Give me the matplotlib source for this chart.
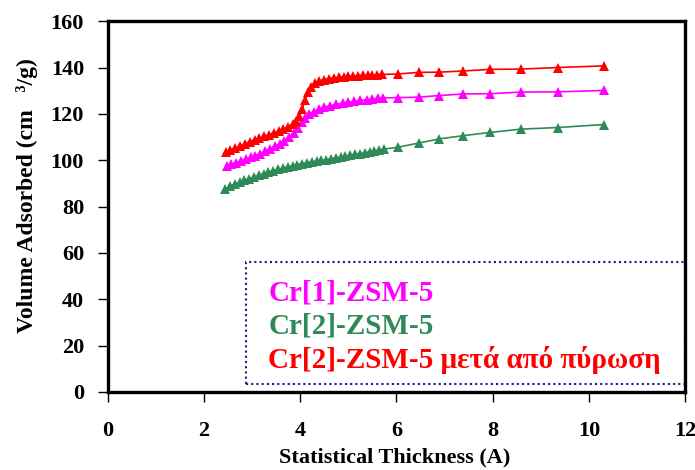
import matplotlib
matplotlib.use("Agg")
import matplotlib.pyplot as plt
from matplotlib.patches import Rectangle

# ---- data ----
cr1_x = [2.47, 2.57, 2.67, 2.77, 2.87, 2.97, 3.07, 3.17, 3.27, 3.37, 3.47, 3.57,
         3.67, 3.77, 3.87, 3.95, 4.03, 4.10, 4.18, 4.28, 4.38, 4.50, 4.62, 4.75,
         4.88, 5.00, 5.12, 5.25, 5.38, 5.50, 5.62, 5.72,
         6.03, 6.46, 6.89, 7.39, 7.95, 8.58, 9.35, 10.31]
cr1_y = [97.4, 98.2, 99.0, 99.8, 100.5, 101.2, 102.0, 102.8, 103.8, 104.8, 106.0, 107.2,
         108.5, 110.0, 111.8, 114.0, 116.5, 118.3, 119.8, 121.0, 122.0, 122.9, 123.5, 124.1,
         124.6, 125.0, 125.4, 125.8, 126.1, 126.4, 126.7, 126.9,
         127.0, 127.2, 127.9, 128.6, 128.7, 129.4, 129.5, 130.1]

cr2_x = [2.44, 2.54, 2.64, 2.74, 2.84, 2.94, 3.04, 3.14, 3.24, 3.34, 3.44, 3.54,
         3.64, 3.74, 3.84, 3.94, 4.04, 4.14, 4.24, 4.34, 4.44, 4.54, 4.64, 4.74,
         4.84, 4.94, 5.04, 5.14, 5.24, 5.34, 5.44, 5.54, 5.64, 5.74,
         6.03, 6.46, 6.89, 7.39, 7.95, 8.58, 9.35, 10.31]
cr2_y = [87.6, 88.8, 89.7, 90.5, 91.3, 92.1, 92.8, 93.5, 94.2, 94.9, 95.5, 96.1,
         96.6, 97.1, 97.6, 98.1, 98.5, 98.9, 99.3, 99.6, 99.9, 100.3, 100.6, 101.0,
         101.3, 101.7, 102.1, 102.5, 102.8, 103.2, 103.6, 104.0, 104.4, 104.8,
         105.6, 107.4, 109.2, 110.6, 112.0, 113.4, 114.1, 115.4]

cr2c_x = [2.45, 2.55, 2.65, 2.75, 2.85, 2.95, 3.05, 3.15, 3.25, 3.35, 3.45, 3.55,
          3.65, 3.75, 3.85, 3.92, 3.98, 4.04, 4.10, 4.16, 4.22, 4.30, 4.40, 4.50,
          4.60, 4.70, 4.80, 4.90, 5.00, 5.10, 5.20, 5.30, 5.40, 5.50, 5.60, 5.70,
          6.03, 6.46, 6.89, 7.39, 7.95, 8.58, 9.35, 10.31]
cr2c_y = [103.5, 104.5, 105.2, 106.0, 107.0, 108.0, 108.8, 109.5, 110.3, 111.0, 111.8, 112.6,
          113.4, 114.5, 115.8, 117.0, 119.0, 122.0, 126.0, 129.5, 131.8, 133.2, 134.3, 134.8,
          135.2, 135.5, 135.8, 136.0, 136.2, 136.3, 136.5, 136.6, 136.7, 136.8, 136.9, 137.0,
          137.2, 137.9, 138.0, 138.5, 139.2, 139.3, 140.0, 140.7]

labels = ["Cr[1]-ZSM-5", "Cr[2]-ZSM-5", "Cr[2]-ZSM-5 μετά από πύρωση"]
colors = ["#FF00FF", "#2E8B57", "#FF0000"]

plt.rcParams['font.family'] = ['Liberation Serif', 'DejaVu Serif']
plt.rcParams['font.weight'] = 'bold'

fig = plt.figure(figsize=(6.95, 4.70), dpi=100)
ax = fig.add_axes([0.155, 0.166, 0.831, 0.789])

for xs, ys, c in [(cr1_x, cr1_y, colors[0]), (cr2_x, cr2_y, colors[1]), (cr2c_x, cr2c_y, colors[2])]:
    ax.plot(xs, ys, color=c, lw=1.2, marker='^', ms=6.5, markeredgewidth=0)

ax.set_xlim(0, 12)
ax.set_ylim(0, 160)
ax.set_xticks(range(0, 13, 2))
ax.set_yticks(range(0, 161, 20))
for s in ax.spines.values():
    s.set_linewidth(2.4)
ax.tick_params(direction='out', length=7, width=1, labelsize=16)
ax.tick_params(axis='y', pad=10)
ax.tick_params(axis='x', pad=14)
for t in ax.get_xticklabels() + ax.get_yticklabels():
    t.set_fontweight('bold')

ax.set_xlabel("Statistical Thickness (A)", fontsize=16, fontweight='bold', va='top')
ax.xaxis.set_label_coords(0.497, -0.15)
ax.set_ylabel("Volume Adsorbed (cm   ³/g)", fontsize=17, fontweight='bold')
ax.yaxis.set_label_coords(-0.12, 0.53)

# text box standing in for the legend
box = Rectangle((0.239, 0.022), 0.761, 0.328, transform=ax.transAxes, fill=False,
                edgecolor='#1a1a8c', linestyle=(0, (1, 1.5)), lw=1.5, clip_on=False)
ax.add_patch(box)
for i, (lab, c) in enumerate(zip(labels, colors)):
    ax.text(0.278, 0.248 - i * 0.091, lab, color=c, fontsize=21, fontweight='bold',
            transform=ax.transAxes, va='baseline', ha='left')

fig.savefig("out.png", dpi=100)
